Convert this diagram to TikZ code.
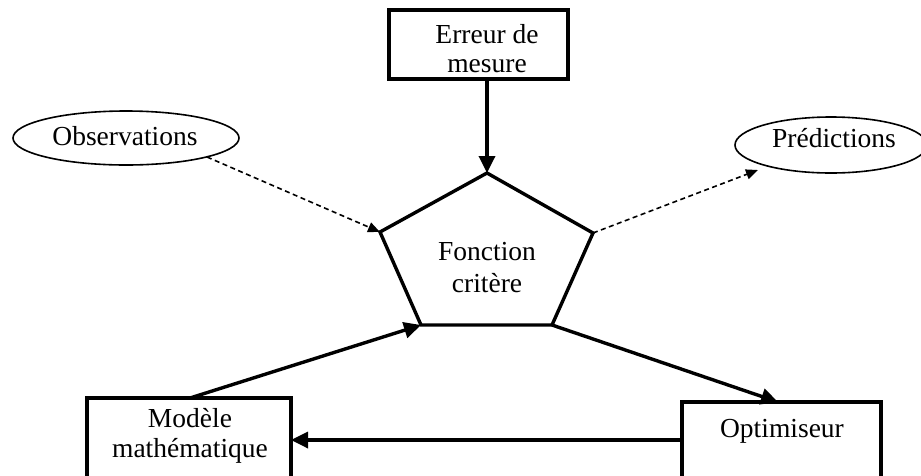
\documentclass[tikz,border=0pt]{standalone}
\usepackage{fontspec}
\setmainfont{Liberation Serif}
\usetikzlibrary{arrows.meta,shapes.geometric}
\tikzset{
  boxshape/.style={draw, line width=3.2pt, rectangle, inner sep=0pt},
  ovalshape/.style={draw, line width=1.6pt, ellipse, inner sep=0pt},
  lbl/.style={anchor=base, inner sep=0pt, font=\fontsize{27.5}{29}\selectfont},
  thickarrow/.style={line width=3.4pt, -{Triangle[length=17pt,width=16pt]}},
  dasharrow/.style={line width=1.6pt, dash pattern=on 5pt off 3.5pt, -{Triangle[length=12pt,width=10pt]}},
  edge/.style={line width=3.4pt, line join=miter}
}
\begin{document}
\begin{tikzpicture}[x=1pt,y=-1pt]
\useasboundingbox (0,0) rectangle (921,475);
% boxes
\node[boxshape, minimum width=179pt, minimum height=69pt] (err) at (478.5,44.5) {};
\node[lbl] at (487,43) {Erreur de};
\node[lbl] at (487,72) {mesure};
\draw[boxshape] (87,478) -- (87,398) coordinate (mtl) -- (291,398) -- (291,478);
\coordinate (modtop) at (190,398);
\coordinate (modright) at (291,440);
\node[lbl] at (190,427) {Modèle};
\node[lbl] at (190,457) {mathématique};
\draw[boxshape] (682,478) -- (682,402) -- (881,402) -- (881,478);
\coordinate (opttop) at (778,402);
\coordinate (optleft) at (682,440);
\node[lbl] at (782,437) {Optimiseur};
% ellipses
\node[ovalshape, minimum width=226pt, minimum height=54pt] (obs) at (126,138) {};
\node[lbl] at (125,145) {Observations};
\node[ovalshape, minimum width=192pt, minimum height=56pt] (pred) at (831,145) {};
\node[lbl] at (834,147) {Prédictions};
% pentagon
\coordinate (pt) at (487,173);
\coordinate (pl) at (380,232);
\coordinate (pr) at (593,233);
\coordinate (pbl) at (421,325);
\coordinate (pbr) at (552,325);
\draw[edge] (pt) -- (pr) -- (pbr) -- (pbl) -- (pl) -- cycle;
\node[lbl] (fc1) at (487,260) {Fonction};
\node[lbl] (fc2) at (487,292) {critère};
% connectors
\draw[thickarrow] (err.south -| pt) -- (pt);
\coordinate (obsend) at (207,157);
\coordinate (predend) at (758,170);
\draw[dasharrow] (obsend) -- (pl);
\draw[dasharrow] (pr) -- (predend);
\draw[thickarrow] (modtop) -- (pbl);
\draw[thickarrow] (pbr) -- (opttop);
\draw[thickarrow] (optleft) -- (modright);
\end{tikzpicture}
\end{document}
